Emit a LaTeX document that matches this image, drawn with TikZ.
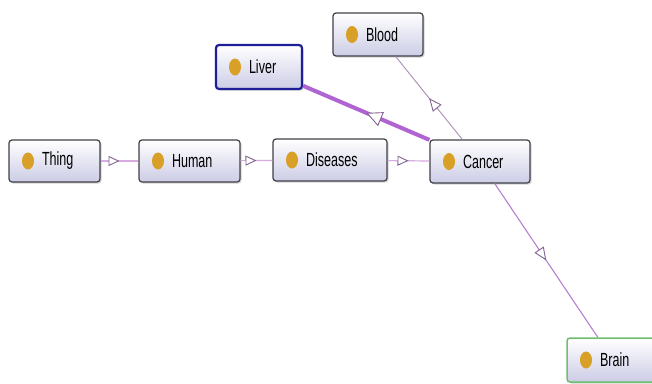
\documentclass[tikz,border=0pt]{standalone}
\usepackage{fontspec}
\newfontfamily\lblfont{Liberation Sans}[FakeStretch=0.66]
\usetikzlibrary{arrows.meta,decorations.markings,shadows}
\definecolor{boxc}{RGB}{64,64,72}
\definecolor{boxlav}{RGB}{204,204,230}
\definecolor{dotc}{RGB}{216,160,38}
\definecolor{liverc}{RGB}{30,30,150}
\definecolor{brainc}{RGB}{110,190,110}
\definecolor{hlinec}{RGB}{215,170,225}
\definecolor{thickc}{RGB}{175,100,210}
\definecolor{bloodc}{RGB}{170,140,185}
\definecolor{brainlc}{RGB}{180,130,205}
\definecolor{arrc}{RGB}{130,100,145}
\begin{document}
\begin{tikzpicture}[x=1pt,y=-1pt,
  cls/.style={draw=boxc, line width=1.2pt, rounded corners=3pt,
    top color=white, bottom color=boxlav,
    minimum height=42pt, inner sep=0pt, minimum width=#1, text width=#1,
    align=left, font={\lblfont\fontsize{19}{20}\selectfont},
    drop shadow={shadow xshift=1.5pt, shadow yshift=-1.5pt, opacity=0.35},
    execute at begin node={\hspace*{33pt}},
    path picture={\fill[dotc] ([xshift=19pt]path picture bounding box.west)
      ellipse [x radius=6pt, y radius=8.5pt];}},
  mid/.style 2 args={postaction={decorate, decoration={markings,
    mark=at position 0.5 with {\arrow{Triangle[open, fill=white, color=arrc, line width=0.9pt, length=#1, width=#2]}}}}},
  hline/.style={draw=hlinec, line width=1.2pt, mid={11pt}{10pt}},
  liverline/.style={draw=thickc, line width=4pt, mid={16pt}{15pt}},
  bloodline/.style={draw=bloodc, line width=0.9pt, mid={13pt}{11pt}},
  brainline/.style={draw=brainlc, line width=1.1pt, mid={13pt}{11pt}}
]
\useasboundingbox (0,0) rectangle (652,383);
\fill[white] (0,0) rectangle (652,383);

\node[cls=91pt] (thing) at (54.5,161) {Thing};
\node[cls=101pt] (human) at (189.5,161) {Human};
\node[cls=114pt] (diseases) at (330,160) {Diseases};
\node[cls=100pt, minimum height=43pt] (cancer) at (480,161.5) {Cancer};
\node[cls=86pt, minimum height=44pt, draw=liverc, line width=2.2pt] (liver) at (259,67) {Liver};
\node[cls=90pt, minimum height=43pt] (blood) at (378,34.5) {Blood};
\node[cls=92pt, minimum height=44pt, draw=brainc, line width=1.5pt] (brain) at (613,360) {Brain};

\draw[hline] (thing) -- (human);
\draw[hline] (human) -- (diseases);
\draw[hline] (diseases) -- (cancer);
\draw[liverline] (cancer) -- (liver);
\draw[bloodline] (cancer) -- (blood);
\draw[brainline] (cancer) -- (brain);
\end{tikzpicture}
\end{document}
